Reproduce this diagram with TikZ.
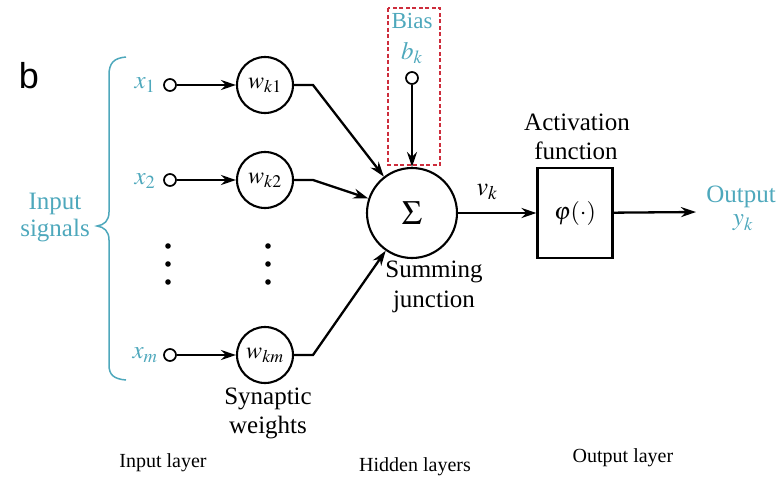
\documentclass[tikz,border=0pt]{standalone}
\usepackage{mathptmx}
\usepackage{fontspec}
\setmainfont{Liberation Serif}
\newfontfamily\textserif{Liberation Serif}
\newfontfamily\panelfont{Liberation Sans}
\usetikzlibrary{arrows.meta}
\definecolor{sigcol}{RGB}{78,168,188}
\definecolor{biasred}{RGB}{205,45,60}
% large captions: 20pt serif text, scaled up
\newcommand{\bigtxt}[1]{\scalebox{1.25}{#1}}
\begin{document}
\begin{tikzpicture}[x=1pt,y=-1pt,
  wire/.style={line width=2.3pt},
  arr/.style={wire,-{Stealth[length=15pt,width=10pt]}},
  port/.style={circle,draw,line width=1.7pt,minimum size=12pt,inner sep=0pt},
  weight/.style={circle,draw,line width=2.1pt,minimum size=56pt,inner sep=0pt,font=\fontsize{24}{26}\selectfont},
  sig/.style={text=sigcol,font=\textserif\fontsize{20}{22}\selectfont},
  caption/.style={font=\textserif\fontsize{20}{22}\selectfont},
  layer/.style={font=\textserif\fontsize{20}{22}\selectfont}]
\useasboundingbox (0,0) rectangle (781,477);

% panel letter
\node[font=\panelfont\fontsize{36}{38}\selectfont] (panel) at (29,76) {b};

% input brace
\draw[sigcol,line width=1.5pt]
  (126,57) .. controls (114,58) and (109,63) .. (109,75) -- (109,212)
  .. controls (109,221) and (104,225) .. (97,226)
  .. controls (104,227) and (109,231) .. (109,240) -- (109,365)
  .. controls (109,375) and (114,379) .. (126,380);
\node[sig] (insig1) at (55,204) {\bigtxt{Input}};
\node[sig] (insig2) at (55,231) {\bigtxt{signals}};

% inputs
\node[sig,font=\fontsize{25}{27}\selectfont] (lx1) at (145,85) {$x_1$};
\node[sig,font=\fontsize{25}{27}\selectfont] (lx2) at (145,181) {$x_2$};
\node[sig,font=\fontsize{25}{27}\selectfont] (lxm) at (145,355) {$x_m$};
\node[port] (in1) at (170,85) {};
\node[port] (in2) at (170,180) {};
\node[port] (inm) at (170,355) {};

% synaptic weights
\node[weight] (w1) at (265,85) {$w_{k1}$};
\node[weight] (w2) at (265,180) {$w_{k2}$};
\node[weight] (wm) at (265,355) {$w_{km}$};
\node[caption] (syn1) at (268,399) {\bigtxt{Synaptic}};
\node[caption] (syn2) at (268,428) {\bigtxt{weights}};

% ellipsis dots
\foreach \cx in {168,268}
  \foreach \cy in {246,264,282}
    \fill (\cx,\cy) circle (2.8pt);

% summing junction
\node[circle,draw,line width=2.1pt,minimum size=90pt,inner sep=0pt,
      font=\fontsize{34}{36}\selectfont] (sum) at (412,213) {$\Sigma$};
\node[caption] (sum1) at (434,272) {\bigtxt{Summing}};
\node[caption] (sum2) at (434,302) {\bigtxt{junction}};

% bias
\draw[biasred,line width=1.8pt,dash pattern=on 4pt off 2.5pt] (388,8) rectangle (440,165);
\node[sig] (biaslbl) at (412,21) {\scalebox{1.15}{Bias}};
\node[sig,font=\fontsize{25}{27}\selectfont] (bk) at (412,53) {$b_k$};
\node[port] (bias) at (412,78) {};

% activation function
\node[caption] (act1) at (577,122) {\bigtxt{Activation}};
\node[caption] (act2) at (576,151) {\bigtxt{function}};
\node[draw,line width=2.1pt,minimum width=75pt,minimum height=90pt,
      font=\fontsize{24}{26}\selectfont] (act) at (575,213) {$\varphi(\cdot)$};
\node[font=\fontsize{26}{28}\selectfont] (vk) at (487,192) {$v_k$};

% output
\node[sig] (out1) at (741,197) {\bigtxt{Output}};
\node[sig,font=\fontsize{25}{27}\selectfont] (out2) at (743,223) {$y_k$};
\coordinate (outend) at (696,212);

% bend points of the weighted lines
\coordinate (b1) at (313,85);
\coordinate (b2) at (313,180);
\coordinate (bm) at (313,355);

% connectors
\draw[arr] (in1) -- (w1);
\draw[arr] (in2) -- (w2);
\draw[arr] (inm) -- (wm);
\draw[arr] (w1.east) -- (b1) -- (sum);
\draw[arr] (w2.east) -- (b2) -- (sum);
\draw[arr] (wm.east) -- (bm) -- (sum);
\draw[arr] (bias) -- (sum);
\draw[arr] (sum) -- (act);
\draw[arr] (act) -- (outend);

% layer captions
\node[layer] (inlayer) at (163,463) {Input layer};
\node[layer] (hidlayer) at (415,467) {Hidden layers};
\node[layer] (outlayer) at (623,458) {Output layer};
\end{tikzpicture}
\end{document}
